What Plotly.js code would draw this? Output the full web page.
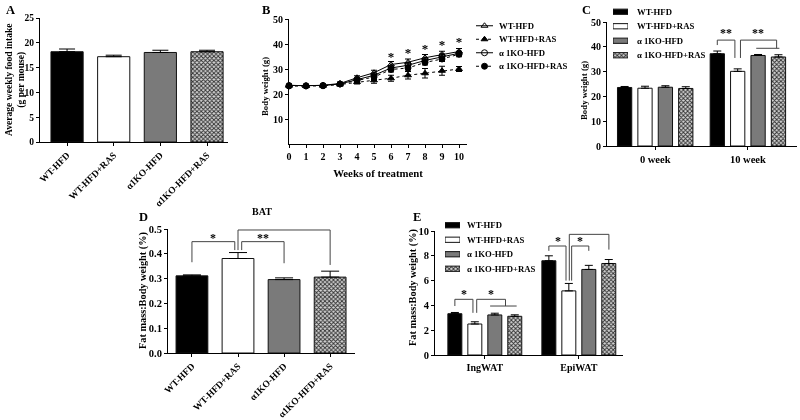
<!DOCTYPE html>
<html>
<head>
<meta charset="utf-8">
<script src="https://cdn.plot.ly/plotly-3.0.1.min.js"></script>
<style>
html,body{margin:0;padding:0;background:#fff;}
#chart{width:800px;height:420px;}
#chart .main-svg{will-change:transform;}
</style>
</head>
<body>
<div id="chart"></div>
<script>
// ---------- DATA ----------
const groups = ['WT-HFD', 'WT-HFD+RAS', 'α1KO-HFD', 'α1KO-HFD+RAS'];
const legendNames = ['WT-HFD', 'WT-HFD+RAS', 'α 1KO-HFD', 'α 1KO-HFD+RAS'];

// A: average weekly food intake (g per mouse)
const foodIntake = [18.2, 17.2, 18.05, 18.2];
const foodIntakeErr = [0.55, 0.3, 0.45, 0.3];

// B: body weight over weeks of treatment
const weeks = [0, 1, 2, 3, 4, 5, 6, 7, 8, 9, 10];
const bwWT = [23.5, 23.3, 23.5, 24.2, 26.5, 28.5, 31.8, 32.7, 34.5, 35.9, 37.0];
const bwWTErr = [0.5, 0.4, 0.4, 0.5, 0.8, 1.0, 1.2, 1.3, 1.3, 1.2, 1.2];
const bwWTRAS = [23.3, 23.2, 23.3, 23.8, 24.8, 25.5, 26.3, 27.5, 28.3, 29.3, 30.0];
const bwWTRASErr = [0.5, 0.4, 0.4, 0.5, 0.8, 1.2, 1.2, 1.5, 1.9, 1.8, 1.0];
const bwKO = [23.4, 23.3, 23.4, 24.0, 25.8, 27.5, 30.4, 31.5, 33.4, 35.0, 36.3];
const bwKOErr = [0.4, 0.4, 0.4, 0.4, 0.6, 0.8, 0.8, 1.0, 1.0, 1.0, 0.8];
const bwKORAS = [23.2, 23.2, 23.3, 24.0, 25.4, 26.8, 29.8, 30.4, 32.6, 34.0, 35.9];
const bwKORASErr = [0.5, 0.4, 0.4, 0.5, 0.8, 1.0, 1.0, 1.2, 1.0, 1.0, 1.0];
const starWeeks = [6, 7, 8, 9, 10];
const starY = [34.5, 36.3, 37.9, 39.3, 40.5];

// C: body weight at 0 and 10 weeks
const timePoints = ['0 week', '10 week'];
const bwC_WT = [23.6, 37.2];
const bwC_WTErr = [0.4, 1.1];
const bwC_WTRAS = [23.3, 30.1];
const bwC_WTRASErr = [0.8, 1.0];
const bwC_KO = [23.7, 36.5];
const bwC_KOErr = [0.6, 0.4];
const bwC_KORAS = [23.2, 35.9];
const bwC_KORASErr = [0.7, 0.9];

// D: BAT fat mass : body weight (%)
const batRatio = [0.311, 0.381, 0.296, 0.306];
const batErr = [0.004, 0.024, 0.007, 0.024];

// E: WAT fat mass : body weight (%)
const depots = ['IngWAT', 'EpiWAT'];
const fatWT = [3.33, 7.6];
const fatWTErr = [0.1, 0.4];
const fatWTRAS = [2.5, 5.17];
const fatWTRASErr = [0.18, 0.6];
const fatKO = [3.23, 6.9];
const fatKOErr = [0.14, 0.33];
const fatKORAS = [3.12, 7.38];
const fatKORASErr = [0.12, 0.32];

// ---------- STYLE ----------
const FF = 'Liberation Serif, Times New Roman, serif';
const bold = (size, color) => ({family: FF, size: size, weight: 'bold', color: color || 'black'});
const barColors = ['#000000', '#ffffff', '#7a7a7a', '#9a9a9a'];
const checker = {shape: 'x', size: 3, solidity: 0.5, fgcolor: '#2e2e2e', bgcolor: '#d4d4d4'};

function baseAxis(extra) {
  return Object.assign({
    showline: true, linecolor: 'black', linewidth: 1,
    ticks: 'outside', ticklen: 3, tickwidth: 1, tickcolor: 'black',
    showgrid: false, zeroline: false, fixedrange: true,
    tickfont: bold(10), automargin: false
  }, extra);
}
function hiddenAxis(extra) {
  return Object.assign({visible: false, showgrid: false, zeroline: false, fixedrange: true, automargin: false}, extra);
}
function errUp(arr, w) {
  return {type: 'data', symmetric: false, array: arr, arrayminus: arr.map(() => 0),
          color: 'black', thickness: 1, width: w};
}
function marker(i) {
  const m = {color: barColors[i], line: {color: '#111', width: 1}};
  if (i === 3) m.pattern = checker;
  return m;
}

const traces = [];

// A and D: one trace per group so each bar gets its own fill
const singleW = 0.69;
function singleBars(vals, errs, xa, ya, capW) {
  groups.forEach((g, i) => {
    traces.push({type: 'bar', x: [g], y: [vals[i]], xaxis: xa, yaxis: ya,
      width: singleW, offset: -singleW / 2, marker: marker(i),
      error_y: errUp([errs[i]], capW), showlegend: false, hoverinfo: 'skip'});
  });
}
singleBars(foodIntake, foodIntakeErr, 'x', 'y', 8);

// B
const bSeries = [
  {y: bwWT, e: bwWTErr, sym: 'triangle-up-open', dash: 'solid'},
  {y: bwWTRAS, e: bwWTRASErr, sym: 'triangle-up', dash: 'dot'},
  {y: bwKO, e: bwKOErr, sym: 'circle-open', dash: 'solid'},
  {y: bwKORAS, e: bwKORASErr, sym: 'circle', dash: 'dot'}
];
bSeries.forEach((s, i) => {
  traces.push({type: 'scatter', mode: 'lines+markers', x: weeks, y: s.y, name: legendNames[i],
    xaxis: 'x2', yaxis: 'y2', showlegend: false, cliponaxis: false,
    line: {color: 'black', width: 1, dash: s.dash},
    marker: {symbol: s.sym, size: 6, color: 'black', line: {color: 'black', width: 1}},
    error_y: {type: 'data', array: s.e, color: 'black', thickness: 1, width: 3},
    hoverinfo: 'skip'});
});
traces.push({type: 'scatter', mode: 'text', x: starWeeks, y: starY, text: starWeeks.map(() => '*'),
  textfont: bold(13), xaxis: 'x2', yaxis: 'y2', showlegend: false, hoverinfo: 'skip', cliponaxis: false});

// grouped-bar geometry for C and E
const gapC = 0.12, gapE = 0.15, groupGap = 0.3;
const offs = (g) => [0, 1, 2, 3].map(i => (i - 1.5) * (1 - g) / 4);
const widthOf = (g) => (1 - g) / 4 * (1 - groupGap);

// C
const cVals = [bwC_WT, bwC_WTRAS, bwC_KO, bwC_KORAS];
const cErrs = [bwC_WTErr, bwC_WTRASErr, bwC_KOErr, bwC_KORASErr];
cVals.forEach((v, i) => {
  const w = widthOf(gapC);
  traces.push({type: 'bar', x: timePoints, y: v, name: legendNames[i], xaxis: 'x3', yaxis: 'y3',
    showlegend: false, width: w, offset: offs(gapC)[i] - w / 2,
    marker: marker(i), error_y: errUp(cErrs[i], 4), hoverinfo: 'skip'});
});

// D
singleBars(batRatio, batErr, 'x4', 'y4', 9);

// E
const eVals = [fatWT, fatWTRAS, fatKO, fatKORAS];
const eErrs = [fatWTErr, fatWTRASErr, fatKOErr, fatKORASErr];
eVals.forEach((v, i) => {
  const w = widthOf(gapE);
  traces.push({type: 'bar', x: depots, y: v, name: legendNames[i], xaxis: 'x5', yaxis: 'y5',
    showlegend: false, width: w, offset: offs(gapE)[i] - w / 2,
    marker: marker(i), error_y: errUp(eErrs[i], 4), hoverinfo: 'skip'});
});

// ---------- legends (drawn on small hidden axes) ----------
const legIdx = [0, 1, 2, 3];
bSeries.forEach((s, i) => {
  traces.push({type: 'scatter', mode: 'lines', x: [0, 1], y: [i, i], xaxis: 'x6', yaxis: 'y6',
    line: {color: 'black', width: 1, dash: s.dash}, showlegend: false, hoverinfo: 'skip', cliponaxis: false});
  traces.push({type: 'scatter', mode: 'markers', x: [0.5], y: [i], xaxis: 'x6', yaxis: 'y6',
    marker: {symbol: s.sym, size: 6, color: 'black', line: {color: 'black', width: 1}},
    showlegend: false, hoverinfo: 'skip', cliponaxis: false});
});
[['x7', 'y7'], ['x8', 'y8']].forEach(ax => {
  legIdx.forEach(i => {
    traces.push({type: 'bar', orientation: 'h', y: [i], x: [1], base: 0,
      width: 0.36, xaxis: ax[0], yaxis: ax[1], marker: marker(i),
      showlegend: false, hoverinfo: 'skip'});
  });
});

// ---------- significance brackets ----------
const shapes = [];
const annotations = [];
function line(ax, x0, y0, x1, y1) {
  shapes.push({type: 'line', xref: 'x' + ax, yref: 'y' + ax, x0: x0, y0: y0, x1: x1, y1: y1,
               line: {color: '#444', width: 1}});
}
function bracket(ax, xa, xb, y, ya, yb, label, ly, lx) {
  line(ax, xa, ya, xa, y); line(ax, xa, y, xb, y); line(ax, xb, y, xb, yb);
  annotations.push({xref: 'x' + ax, yref: 'y' + ax, x: lx !== undefined ? lx : (xa + xb) / 2, y: ly,
    text: label, showarrow: false, font: bold(label.length > 3 ? 8.5 : 12), yanchor: 'middle'});
}
const oc = offs(gapC), oe = offs(gapE);
// C
bracket(3, 1 + oc[0], 1 + oc[1] - 0.03, 42.7, 40.7, 35.5, '**', 45.5);
bracket(3, 1 + oc[1] + 0.03, 1.31, 42.7, 35.5, 39.4, '**', 45.5, 1.11);
line(3, 1 + oc[2] - 0.02, 39.4, 1 + oc[3] + 0.01, 39.4);
// D
bracket(4, 0, 0.93, 0.449, 0.366, 0.415, '*', 0.462, 0.46);
bracket(4, 1.08, 2.0, 0.449, 0.415, 0.362, '**', 0.462, 1.54);
bracket(4, 1.0, 3.0, 0.496, 0.415, 0.355, '<i>P</i>=0.075', 0.52, 2.05);
// E
bracket(5, oe[0], oe[1] - 0.02, 4.49, 3.95, 3.4, '*', 4.9, -0.22);
bracket(5, oe[1] + 0.02, 0.22, 4.49, 3.4, 3.95, '*', 4.9, 0.065);
line(5, oe[2] - 0.05, 3.95, oe[3] + 0.02, 3.95);
bracket(5, 1 + oe[0], 1 + oe[1] - 0.03, 8.79, 8.4, 6.0, '*', 9.2, 0.775);
bracket(5, 1 + oe[1] + 0.03, 1 + oe[2], 8.79, 6.0, 8.4, '*', 9.2, 1.01);
bracket(5, 1 + oe[1] + 0.005, 1.32, 9.73, 6.0, 8.5, '**', 10.15, 1.12);

// paper-pixel helpers
const PX = v => v / 800, PY = v => 1 - v / 420;
function paperText(text, x, y, font, opts) {
  annotations.push(Object.assign({xref: 'paper', yref: 'paper', x: PX(x), y: PY(y), text: text,
    showarrow: false, font: font, xanchor: 'center', yanchor: 'middle'}, opts || {}));
}
[['A', 10, 10], ['B', 266, 10], ['C', 586, 10], ['D', 143, 217], ['E', 417, 217]].forEach(p => paperText(p[0], p[1], p[2], bold(12.5)));
paperText('BAT', 262, 211, bold(10));
paperText('Average weekly food intake<br>(g per mouse)', 15, 80, bold(9.6), {textangle: -90});
paperText('Body weight (g)', 265, 87, bold(8.8), {textangle: -90});
paperText('Body weight (g)', 584, 91, bold(8.8), {textangle: -90});
paperText('Fat mass:Body weight (%)', 143, 291, bold(10.3), {textangle: -90});
paperText('Fat mass:Body weight (%)', 413, 288, bold(10.3), {textangle: -90});
const legB = [25.75, 39.25, 52.75, 66.25];
const legC = [11.75, 26.25, 40.75, 55.25];
const legE = [225.25, 239.75, 254.25, 268.75];
legendNames.forEach((n, i) => {
  paperText(n, 497, legB[i], bold(8.7), {xanchor: 'left'});
  paperText(n, 635, legC[i], bold(8.7), {xanchor: 'left'});
  paperText(n, 465, legE[i], bold(8.7), {xanchor: 'left'});
});

const px = (a, b) => [a / 800, b / 800];
const py = (top, bottom) => [1 - bottom / 420, 1 - top / 420];

const layout = {
  width: 800, height: 420, margin: {l: 0, r: 0, t: 0, b: 0},
  paper_bgcolor: 'white', plot_bgcolor: 'rgba(0,0,0,0)',
  bargap: 0.31, barmode: 'group', showlegend: false,
  font: {family: FF, color: 'black'},
  xaxis: baseAxis({domain: px(40, 228), anchor: 'y', type: 'category', categoryarray: groups,
    range: [-0.58, 3.45], tickangle: -45, tickfont: bold(9.5)}),
  yaxis: baseAxis({domain: py(18, 142), anchor: 'x', range: [0, 25], dtick: 5, tickfont: bold(9.5)}),
  xaxis2: baseAxis({domain: px(289, 467), anchor: 'y2', range: [0, 10.47], dtick: 1,
    title: {text: 'Weeks of treatment', font: bold(10.8), standoff: 8}}),
  yaxis2: baseAxis({domain: py(19, 144), anchor: 'x2', range: [0, 50], tickvals: [10, 20, 30, 40, 50]}),
  xaxis3: baseAxis({domain: px(607, 797), anchor: 'y3', type: 'category', categoryarray: timePoints,
    range: [-0.52, 1.53], tickfont: bold(10.5)}),
  yaxis3: baseAxis({domain: py(22, 146), anchor: 'x3', range: [0, 50], dtick: 10}),
  xaxis4: baseAxis({domain: px(168, 355), anchor: 'y4', type: 'category', categoryarray: groups,
    range: [-0.52, 3.54], tickangle: -45, tickfont: bold(9.5)}),
  yaxis4: baseAxis({domain: py(229, 353), anchor: 'x4', range: [0, 0.5], dtick: 0.1, tickformat: '.1f',
    tickfont: bold(10.5)}),
  xaxis5: baseAxis({domain: px(435, 623), anchor: 'y5', type: 'category', categoryarray: depots,
    range: [-0.53, 1.47], tickfont: bold(10)}),
  yaxis5: baseAxis({domain: py(231, 355), anchor: 'x5', range: [0, 10], dtick: 2, tickfont: bold(10.5)}),
  xaxis6: hiddenAxis({domain: px(476, 493), anchor: 'y6', range: [0, 1]}),
  yaxis6: hiddenAxis({domain: py(19, 73), anchor: 'x6', range: [3.5, -0.5]}),
  xaxis7: hiddenAxis({domain: px(613, 628), anchor: 'y7', range: [0, 1]}),
  yaxis7: hiddenAxis({domain: py(4.5, 62.5), anchor: 'x7', range: [3.5, -0.5]}),
  xaxis8: hiddenAxis({domain: px(445, 460), anchor: 'y8', range: [0, 1]}),
  yaxis8: hiddenAxis({domain: py(218, 276), anchor: 'x8', range: [3.5, -0.5]}),
  shapes: shapes,
  annotations: annotations
};

Plotly.newPlot('chart', traces, layout, {displayModeBar: false, staticPlot: true});
</script>
</body>
</html>
